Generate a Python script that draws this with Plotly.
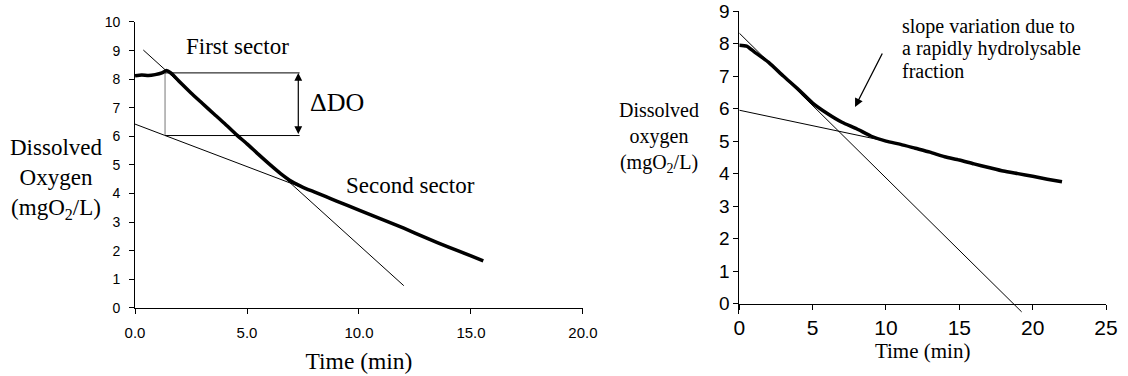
import plotly.graph_objects as go

# ---------------- Left panel data ----------------
left_time = [0.0, 0.3, 0.6, 0.9, 1.2, 1.4, 1.6, 2.0, 2.5, 3.0, 3.5, 4.0, 4.5, 5.0, 5.5,
             6.0, 6.5, 7.0, 7.5, 8.0, 8.5, 9.0, 10.0, 11.0, 12.0, 13.0, 14.0, 15.0, 15.55]
left_do = [8.12, 8.15, 8.13, 8.16, 8.22, 8.30, 8.22, 7.90, 7.52, 7.16, 6.80, 6.45, 6.08, 5.74, 5.38,
           5.03, 4.70, 4.42, 4.22, 4.06, 3.90, 3.74, 3.42, 3.11, 2.79, 2.45, 2.13, 1.82, 1.65]
left_steep_x = [0.37, 12.0]
left_steep_y = [9.02, 0.78]
left_shallow_x = [0.0, 7.5]
left_shallow_y = [6.43, 4.20]
box_x = [1.34, 7.35]          # left / right edge of the ΔDO bracket
box_top = 8.22
box_bottom = 6.03
arrow_x = 7.29
left_xticks = [0, 5, 10, 15, 20]
left_yticks = list(range(0, 11))

# ---------------- Right panel data ----------------
right_time = [0.0, 0.5, 1.0, 2.0, 3.0, 4.0, 5.0, 6.0, 7.0, 8.0, 9.0, 10.0, 11.0, 12.0,
              13.0, 14.0, 15.0, 16.0, 17.0, 18.0, 19.0, 20.0, 21.0, 22.0]
right_do = [7.95, 7.92, 7.75, 7.42, 7.00, 6.60, 6.17, 5.85, 5.58, 5.38, 5.15, 5.00, 4.90, 4.78,
            4.66, 4.52, 4.42, 4.30, 4.19, 4.08, 4.00, 3.92, 3.83, 3.75]
right_steep_x = [0.0, 19.25]
right_steep_y = [8.32, -0.25]
right_shallow_x = [0.0, 10.5]
right_shallow_y = [5.95, 4.95]
right_xticks = [0, 5, 10, 15, 20, 25]
right_yticks = list(range(0, 10))
note_lines = ["slope variation due to", "a rapidly hydrolysable", "fraction"]

SERIF = "Liberation Serif"
SANS = "Liberation Sans"

fig = go.Figure()

# Left panel traces
fig.add_trace(go.Scatter(x=left_steep_x, y=left_steep_y, mode="lines",
                         line=dict(color="black", width=1), xaxis="x", yaxis="y", showlegend=False))
fig.add_trace(go.Scatter(x=left_shallow_x, y=left_shallow_y, mode="lines",
                         line=dict(color="black", width=1), xaxis="x", yaxis="y", showlegend=False))
fig.add_trace(go.Scatter(x=[box_x[0], box_x[0]], y=[box_bottom, box_top], mode="lines",
                         line=dict(color="#777777", width=1), xaxis="x", yaxis="y", showlegend=False))
fig.add_trace(go.Scatter(x=box_x, y=[box_top, box_top], mode="lines",
                         line=dict(color="black", width=1), xaxis="x", yaxis="y", showlegend=False))
fig.add_trace(go.Scatter(x=box_x, y=[box_bottom, box_bottom], mode="lines",
                         line=dict(color="black", width=1), xaxis="x", yaxis="y", showlegend=False))
fig.add_trace(go.Scatter(x=left_time, y=left_do, mode="lines",
                         line=dict(color="black", width=3.5, shape="spline", smoothing=0.6),
                         xaxis="x", yaxis="y", showlegend=False))

# Right panel traces
fig.add_trace(go.Scatter(x=right_steep_x, y=right_steep_y, mode="lines",
                         line=dict(color="black", width=1), xaxis="x2", yaxis="y2", showlegend=False))
fig.add_trace(go.Scatter(x=right_shallow_x, y=right_shallow_y, mode="lines",
                         line=dict(color="black", width=1), xaxis="x2", yaxis="y2", showlegend=False))
fig.add_trace(go.Scatter(x=right_time, y=right_do, mode="lines",
                         line=dict(color="black", width=3.5, shape="spline", smoothing=0.6),
                         xaxis="x2", yaxis="y2", showlegend=False))

axis_common = dict(showline=True, linecolor="black", linewidth=1, showgrid=False, zeroline=False,
                   ticks="outside", tickcolor="black", ticklen=5, tickwidth=1, automargin=False)

fig.update_layout(
    template="none",
    font=dict(family=SERIF, color="black"),
    width=1128, height=376,
    margin=dict(l=0, r=0, t=0, b=0, pad=0),
    plot_bgcolor="white", paper_bgcolor="white",
    xaxis=dict(domain=[0.1197, 0.5168], range=[0, 20], tickvals=left_xticks, tickformat=".1f",
               tickfont=dict(family=SANS, size=15, color="black"), anchor="y", ticklabelstandoff=6,
               title=dict(text="Time (min)", font=dict(family=SERIF, size=23.5, color="black"), standoff=12),
               **axis_common),
    yaxis=dict(domain=[0.1809, 0.9415], range=[0, 10], tickvals=left_yticks, ticklabelstandoff=6,
               tickfont=dict(family=SANS, size=14, color="black"), anchor="x", **axis_common),
    xaxis2=dict(domain=[0.6554, 0.9805], range=[0, 25], tickvals=right_xticks,
                tickfont=dict(family=SANS, size=21, color="black"), anchor="free", position=0.1923,
                title=dict(text="Time (min)", font=dict(family=SERIF, size=21, color="black"), standoff=0),
                **axis_common),
    yaxis2=dict(domain=[0.1662, 0.9707], range=[-0.3, 9], tickvals=right_yticks,
                tickfont=dict(family=SANS, size=19, color="black"), anchor="x2", **axis_common),
)

annotations = [
    dict(text="Dissolved<br>Oxygen<br>(mgO<sub>2</sub>/L)", xref="x domain", yref="y domain",
         x=0, y=0.45, xanchor="right", yanchor="middle", xshift=-30, align="center", showarrow=False,
         font=dict(family=SERIF, size=23, color="black")),
    dict(text="First sector", xref="x", yref="y", x=4.56, y=9.14, showarrow=False,
         font=dict(family=SERIF, size=23, color="black")),
    dict(text="ΔDO", xref="x", yref="y", x=9.0, y=7.17, showarrow=False,
         font=dict(family=SERIF, size=26, color="black")),
    dict(text="Second sector", xref="x", yref="y", x=12.3, y=4.27, showarrow=False,
         font=dict(family=SERIF, size=23, color="black")),
    dict(text="", xref="x", yref="y", x=arrow_x, y=box_top, axref="x", ayref="y",
         ax=arrow_x, ay=box_bottom, showarrow=True, arrowhead=2, startarrowhead=2,
         arrowside="end+start", arrowsize=1.3, arrowwidth=1.2, arrowcolor="black", standoff=0, startstandoff=0),
    dict(text="Dissolved<br>oxygen<br>(mgO<sub>2</sub>/L)", xref="x2 domain", yref="y2 domain",
         x=0, y=0.583, xanchor="right", yanchor="middle", xshift=-38, align="center", showarrow=False,
         font=dict(family=SERIF, size=20, color="black")),
    dict(text="", xref="x2", yref="y2", x=7.89, y=6.05, axref="x2", ayref="y2", ax=9.8, ay=7.74,
         showarrow=True, arrowhead=2, arrowsize=1.3, arrowwidth=1.3, arrowcolor="black", standoff=0),
]
for line_text, line_y in zip(note_lines, [8.51, 7.84, 7.16]):
    annotations.append(dict(text=line_text, xref="x2", yref="y2", x=10.95, y=line_y,
                            xanchor="left", yanchor="middle", align="left", showarrow=False,
                            font=dict(family=SERIF, size=20, color="black")))
fig.update_layout(annotations=annotations)

fig.write_html("out.html")
